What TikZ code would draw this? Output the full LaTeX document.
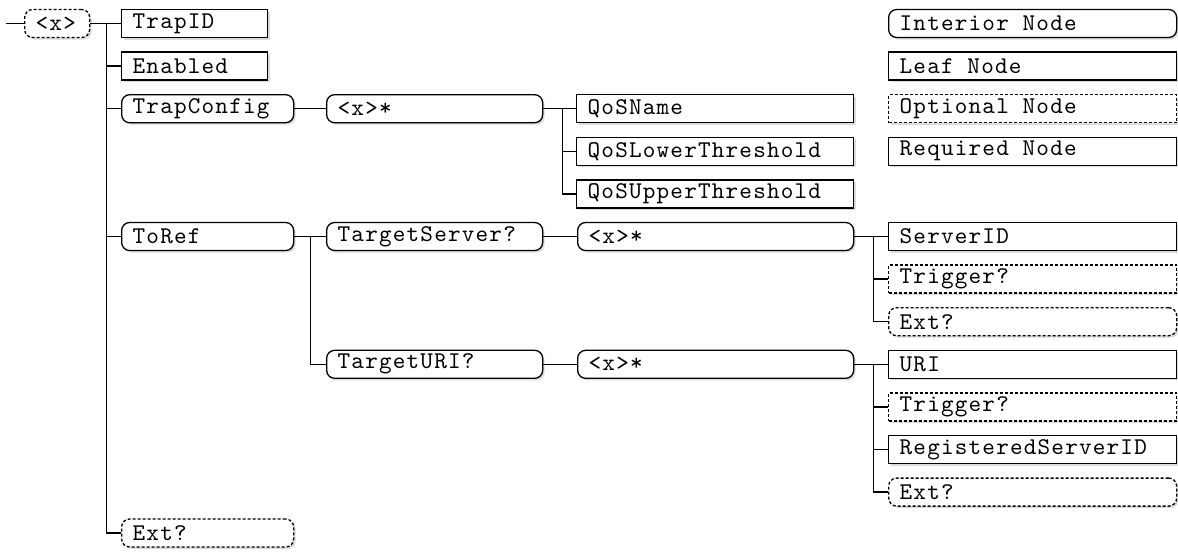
\documentclass[tikz,border=0pt]{standalone}
\usepackage{fontspec}
\newfontfamily\monoft[LetterSpace=5]{lmmono10-regular.otf}
\newcommand{\msp}{\hspace*{13.8pt}}
\usetikzlibrary{shadows}
\begin{document}
\begin{tikzpicture}[x=1pt,y=-1pt,
  base/.style={draw, line width=1.3pt, fill=white, anchor=west, minimum height=28pt,
    inner xsep=11pt, inner ysep=0pt, align=left,
    font=\monoft\fontsize{24}{26}\selectfont,
    drop shadow={shadow xshift=2pt, shadow yshift=-2pt, fill=black!28}},
  leafbox/.style={base},
  optleaf/.style={base, dash pattern=on 3pt off 2pt},
  innerbox/.style={base, rounded corners=8pt},
  optinner/.style={base, rounded corners=8pt, dash pattern=on 3pt off 2pt},
  conn/.style={line width=1.3pt},
  wA/.style={text width=43pt},
  wB/.style={text width=124pt},
  wC/.style={text width=150pt},
  wD/.style={text width=194pt},
  wE/.style={text width=255pt},
  wF/.style={text width=254pt},
  wG/.style={text width=266pt}]
\fill[white] (0,0) rectangle (1178,552);
\useasboundingbox (0,0) rectangle (1178,552);
% level 0
\coordinate (start) at (6,23.5);
\node[optinner, wA] (root) at (24,23.5) {<x>};
% level 1
\node[leafbox, wB] (trapid) at (121,23.5) {TrapID};
\node[leafbox, wB] (enabled) at (121,66.1) {Enabled};
\node[innerbox, wC] (trapconfig) at (121,108.7) {TrapConfig};
\node[innerbox, wC] (toref) at (121,236.5) {ToRef};
\node[optinner, wC] (ext0) at (121,533) {Ext?};
% level 2
\node[innerbox, wD] (qosx) at (326,108.7) {<x>*};
\node[innerbox, wD] (tserver) at (326,236.5) {TargetServer?};
\node[innerbox, wD] (turi) at (326,364.3) {TargetURI?};
% QoS leaves
\node[leafbox, wE] (qosname) at (576,108.7) {QoSName};
\node[leafbox, wE] (qoslower) at (576,151.3) {QoSLowerThreshold};
\node[leafbox, wE] (qosupper) at (576,193.9) {QoSUpperThreshold};
% level 3
\node[innerbox, wF] (sx) at (577,236.5) {<x>*};
\node[innerbox, wF] (ux) at (577,364.3) {<x>*};
% right leaves
\node[leafbox, wG] (serverid) at (888,236.5) {ServerID};
\node[optleaf, wG] (trig1) at (888,279.1) {Trigger?};
\node[optinner, wG] (ext1) at (888,321.7) {Ext?};
\node[leafbox, wG] (uri) at (888,364.3) {URI};
\node[optleaf, wG] (trig2) at (888,406.9) {Trigger?};
\node[leafbox, wG] (regid) at (888,449.5) {RegisteredServerID};
\node[optinner, wG] (ext2) at (888,492.1) {Ext?};
% legend
\node[innerbox, wG] (lint) at (888,23.5) {Interior\msp Node};
\node[leafbox, wG] (lleaf) at (888,66.1) {Leaf\msp Node};
\node[optleaf, wG] (lopt) at (888,108.7) {Optional\msp Node};
\node[leafbox, wG] (lreq) at (888,151.3) {Required\msp Node};
% connectors
\draw[conn] (start) -- (root.west);
\foreach \c in {trapid,enabled,trapconfig,toref,ext0}
  \draw[conn] (root.east) -- ++(16,0) |- (\c.west);
\draw[conn] (trapconfig.east) -- (qosx.west);
\foreach \c in {qosname,qoslower,qosupper}
  \draw[conn] (qosx.east) -- ++(19,0) |- (\c.west);
\foreach \c in {tserver,turi}
  \draw[conn] (toref.east) -- ++(16,0) |- (\c.west);
\draw[conn] (tserver.east) -- (sx.west);
\draw[conn] (turi.east) -- (ux.west);
\foreach \c in {serverid,trig1,ext1}
  \draw[conn] (sx.east) -- ++(19,0) |- (\c.west);
\foreach \c in {uri,trig2,regid,ext2}
  \draw[conn] (ux.east) -- ++(19,0) |- (\c.west);
\end{tikzpicture}
\end{document}
